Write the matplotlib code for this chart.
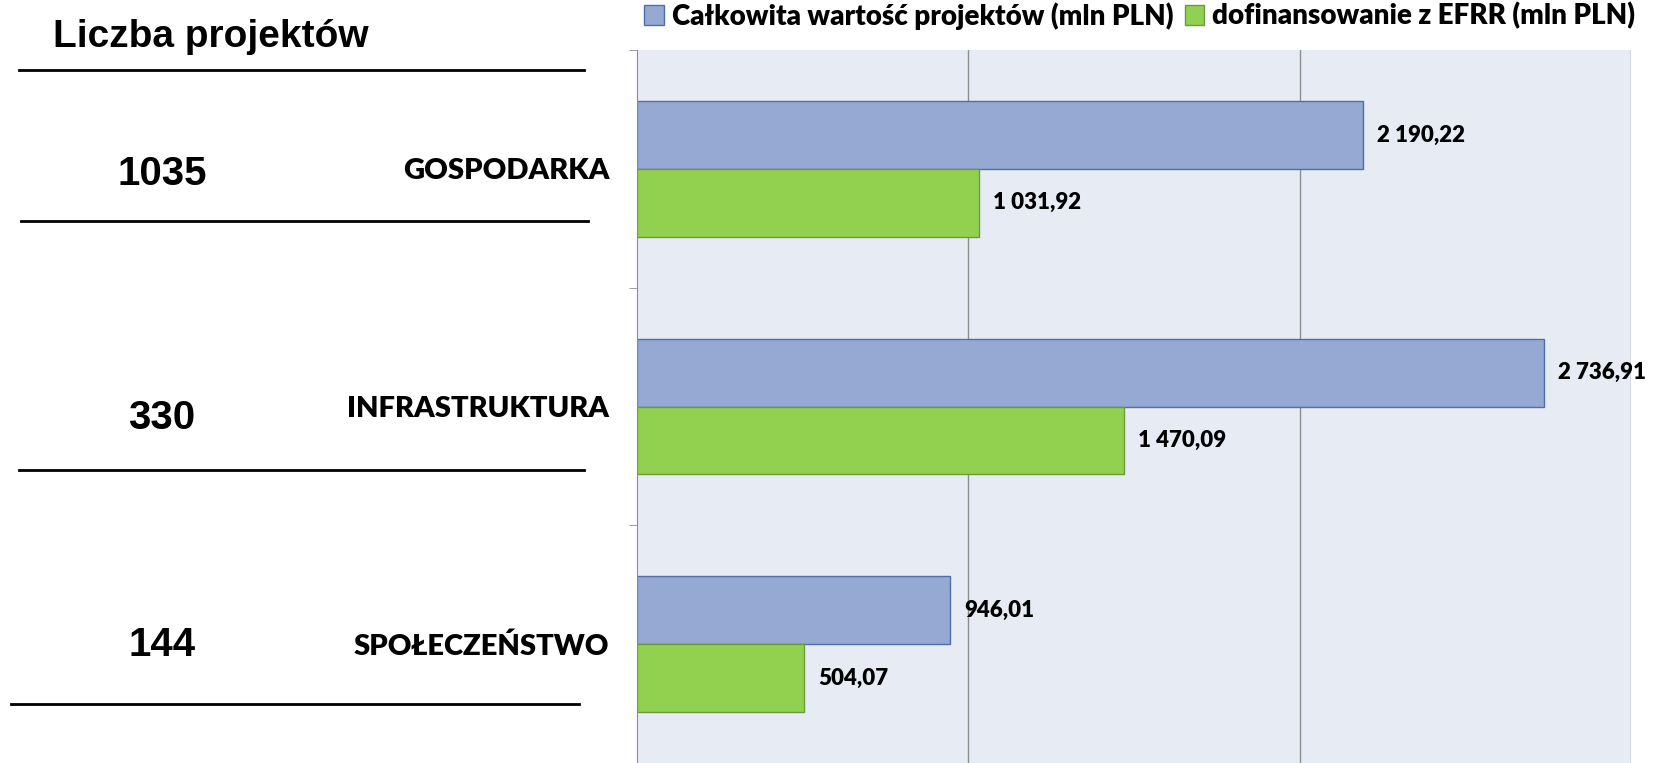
import matplotlib.pyplot as plt
from matplotlib.lines import Line2D
from matplotlib.patches import Patch
import numpy as np

categories = ['GOSPODARKA', 'INFRASTRUKTURA', 'SPOŁECZEŃSTWO']
project_counts = [1035, 330, 144]
total_value = [2190.22, 2736.91, 946.01]
efrr_funding = [1031.92, 1470.09, 504.07]
series_names = ['Całkowita wartość projektów (mln PLN)',
                'dofinansowanie z EFRR (mln PLN)']

blue, blue_edge = '#95A9D3', '#4F6EA6'
green, green_edge = '#92D050', '#6C9A3C'


def fmt(v):
    return f'{v:,.2f}'.replace(',', ' ').replace('.', ',')


fig = plt.figure(figsize=(16.57, 7.63), dpi=100)
ax = fig.add_axes([637 / 1657, 0.0, 994 / 1657, 1 - 50 / 763])
ax.set_facecolor('#E7ECF4')

y = np.arange(len(categories))
h = 0.285
ax.barh(y - h / 2, total_value, height=h, color=blue, edgecolor=blue_edge, linewidth=1)
ax.barh(y + h / 2, efrr_funding, height=h, color=green, edgecolor=green_edge, linewidth=1)

for i in range(len(categories)):
    ax.text(total_value[i] + 42, y[i] - h / 2, fmt(total_value[i]), va='center', ha='left',
            fontsize=16, fontweight=800, family='Lato')
    ax.text(efrr_funding[i] + 42, y[i] + h / 2, fmt(efrr_funding[i]), va='center', ha='left',
            fontsize=16, fontweight=800, family='Lato')

ax.set_xlim(0, 3000)
ax.set_ylim(2.5, -0.5)
ax.set_xticks([1000, 2000, 3000])
ax.set_xticklabels([])
ax.tick_params(axis='x', length=0)
ax.grid(axis='x', color='#8E8E8E', linewidth=1)
ax.set_axisbelow(True)

ax.set_yticks(y)
ax.set_yticklabels(categories, fontsize=21, fontweight=800, family='Lato')
ax.tick_params(axis='y', which='major', length=0, pad=20)
ax.set_yticks([-0.5, 0.5, 1.5, 2.5], minor=True)
ax.tick_params(axis='y', which='minor', length=6, color='#8E8E8E')

for s in ['top', 'bottom', 'right']:
    ax.spines[s].set_visible(False)
ax.spines['left'].set_color('#8E8E8E')

handles = [Patch(facecolor=blue, edgecolor=blue_edge), Patch(facecolor=green, edgecolor=green_edge)]
fig.legend(handles, series_names, loc='upper right', bbox_to_anchor=(1.002, 1.03), ncol=2,
           frameon=False, handlelength=0.7, handleheight=0.7, handletextpad=0.3,
           columnspacing=0.4, prop={'family': 'Lato', 'weight': 800, 'size': 20})

# left-hand column with project counts
fig.text(53 / 1657, 1 - 37 / 763, 'Liczba projektów', fontsize=28, fontweight='bold',
         family='Liberation Sans', va='center', ha='left')
count_y = [174, 418, 645]
for c, yy in zip(project_counts, count_y):
    fig.text(162 / 1657, 1 - yy / 763, str(c), fontsize=29, fontweight='bold',
             family='Liberation Sans', va='center', ha='center')

rules = [(19, 584, 70), (21, 588, 221), (19, 584, 470), (11, 579, 704)]
for x0, x1, yy in rules:
    fig.add_artist(Line2D([x0 / 1657, x1 / 1657], [1 - yy / 763, 1 - yy / 763],
                          color='black', linewidth=2, transform=fig.transFigure))

fig.savefig('out.png', dpi=100)
